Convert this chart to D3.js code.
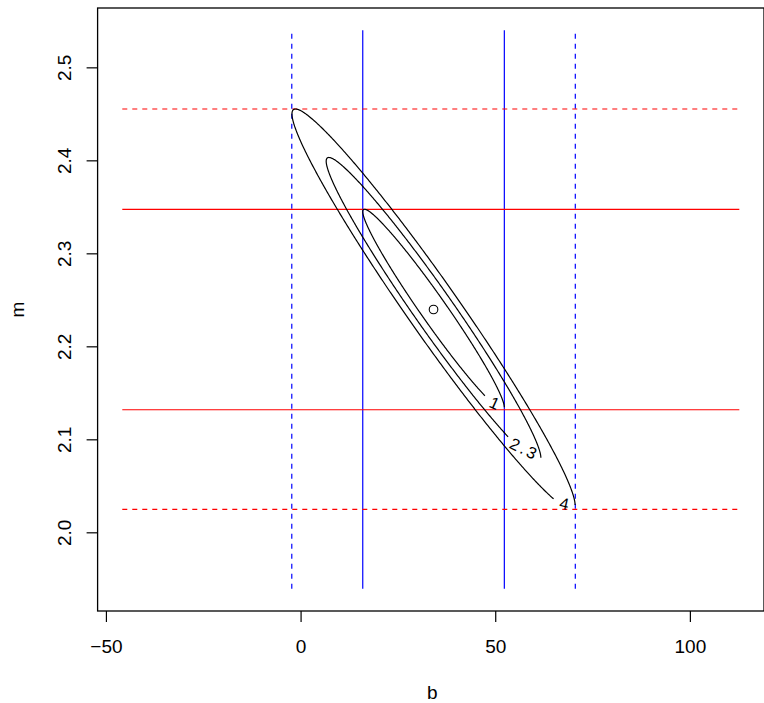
<!DOCTYPE html>
<html>
<head>
<meta charset="utf-8">
<script src="https://cdn.jsdelivr.net/npm/d3@7"></script>
<style>
body { margin: 0; background: #fff; }
text { font-family: "Liberation Sans", Arial, Helvetica, sans-serif; }
</style>
</head>
<body>
<div id="chart"></div>
<script>
// fit result: best (b, m), 1-sigma errors, correlation
var bestFit = [34.15, 2.2396];
var sigmas = [18.18, 0.1078];
var rho = -0.975;

// delta chi-square contour levels and their labels
var levels = [1, 2.3, 4];
var levelLabels = ["1", "2.3", "4"];

// error lines (1 sigma solid, 2 sigma dashed)
var bSolid = [15.97, 52.34];
var bDashed = [-2.26, 70.57];
var mSolid = [2.1318, 2.3473];
var mDashed = [2.0247, 2.4552];

// plot limits and ticks
var xlim = [-45.8, 112.7];
var ylim = [1.9394, 2.5398];
var xTicks = [-50, 0, 50, 100];
var yTicks = [2.0, 2.1, 2.2, 2.3, 2.4, 2.5];

var width = 764, height = 703;
var margin = {top: 8, right: 0, bottom: 92, left: 97.6};

var svg = d3.select("#chart")
  .append("svg")
    .attr("width", width)
    .attr("height", height);

// R style axes: limits extended by 4% on each side
var xr = xlim[1] - xlim[0], yr = ylim[1] - ylim[0];
var x = d3.scaleLinear()
  .domain([xlim[0] - 0.04 * xr, xlim[1] + 0.04 * xr])
  .range([margin.left, width - margin.right]);
var y = d3.scaleLinear()
  .domain([ylim[0] - 0.04 * yr, ylim[1] + 0.04 * yr])
  .range([height - margin.bottom, margin.top]);

// X axis
var gx = svg.append("g")
  .attr("transform", "translate(0," + (height - margin.bottom) + ")")
  .call(d3.axisBottom(x).tickValues(xTicks).tickSize(11).tickPadding(17.5));
gx.select(".domain").remove();
gx.selectAll("text").style("font-size", "19px").attr("fill", "#000");
gx.selectAll("line").attr("stroke", "#000").attr("stroke-width", 1.2);

// Y axis, labels parallel to the axis
var gy = svg.append("g")
  .attr("transform", "translate(" + margin.left + ",0)")
  .call(d3.axisLeft(y).tickValues(yTicks).tickSize(11).tickFormat(d3.format(".1f")));
gy.select(".domain").remove();
gy.selectAll("line").attr("stroke", "#000").attr("stroke-width", 1.2);
gy.selectAll("text")
  .attr("x", 0).attr("dy", null)
  .attr("text-anchor", "middle")
  .attr("transform", "translate(" + (70.6 - margin.left) + ",0) rotate(-90)")
  .style("font-size", "19px")
  .attr("fill", "#000");

// box
svg.append("rect")
  .attr("x", margin.left)
  .attr("y", margin.top)
  .attr("width", width - margin.right - margin.left)
  .attr("height", height - margin.bottom - margin.top)
  .attr("fill", "none")
  .attr("stroke", "#000")
  .attr("stroke-width", 1.3);

// axis titles
svg.append("text")
  .attr("x", (margin.left + width - margin.right) / 2 + 1.5)
  .attr("y", 699)
  .attr("text-anchor", "middle")
  .style("font-size", "19px")
  .text("b");
svg.append("text")
  .attr("transform", "translate(24," + (margin.top + height - margin.bottom) / 2 + ") rotate(-90)")
  .attr("text-anchor", "middle")
  .style("font-size", "19px")
  .text("m");

// vertical lines for b
svg.selectAll(".bline")
  .data(bSolid.map(function(d) { return {v: d, dash: null}; })
    .concat(bDashed.map(function(d) { return {v: d, dash: "5,5"}; })))
  .enter()
  .append("line")
    .attr("x1", function(d) { return x(d.v); })
    .attr("x2", function(d) { return x(d.v); })
    .attr("y1", y(ylim[0]))
    .attr("y2", y(ylim[1]))
    .attr("stroke", "#0000ff")
    .attr("stroke-width", 1.2)
    .attr("stroke-dasharray", function(d) { return d.dash; });

// horizontal lines for m
svg.selectAll(".mline")
  .data(mSolid.map(function(d) { return {v: d, dash: null}; })
    .concat(mDashed.map(function(d) { return {v: d, dash: "5,5"}; })))
  .enter()
  .append("line")
    .attr("y1", function(d) { return y(d.v); })
    .attr("y2", function(d) { return y(d.v); })
    .attr("x1", x(xlim[0]))
    .attr("x2", x(xlim[1]))
    .attr("stroke", "#ff0000")
    .attr("stroke-width", 1.2)
    .attr("stroke-dasharray", function(d) { return d.dash; });

// contour ellipses; the label sits in a gap that starts at the
// right-most point and goes back round the lower tip
var s1m = Math.sqrt(1 - rho * rho);
var line = d3.line();

levels.forEach(function(lev, k) {
  var r = Math.sqrt(lev);
  var n = 720;
  var pts = d3.range(0, n + 1).map(function(i) {
    var t = i / n * 2 * Math.PI;
    var b = bestFit[0] + r * sigmas[0] * Math.cos(t);
    var m = bestFit[1] + r * sigmas[1] * (rho * Math.cos(t) + s1m * Math.sin(t));
    return [x(b), y(m)];
  });
  var label = levelLabels[k];
  var gapW = 14 + 8 * label.length;
  var end = n;
  while (end > 0 && Math.hypot(pts[end][0] - pts[0][0], pts[end][1] - pts[0][1]) < gapW) end--;
  var p0 = pts[end], p1 = pts[0];
  var c = [(p0[0] + p1[0]) / 2, (p0[1] + p1[1]) / 2 + 1.5];
  var ang = Math.atan2(p1[1] - p0[1], p1[0] - p0[0]) * 180 / Math.PI;

  svg.append("path")
    .attr("d", line(pts.slice(0, end + 1)))
    .attr("fill", "none")
    .attr("stroke", "#000")
    .attr("stroke-width", 1.2);

  svg.append("text")
    .attr("transform", "translate(" + c[0] + "," + c[1] + ") rotate(" + ang * 0.8 + ")")
    .attr("text-anchor", "middle")
    .attr("dominant-baseline", "central")
    .style("font-size", "16.5px")
    .style("letter-spacing", label.length > 1 ? "2.5px" : null)
    .text(label);
});

// best fit point
svg.append("circle")
  .attr("cx", x(bestFit[0]))
  .attr("cy", y(bestFit[1]))
  .attr("r", 4.3)
  .attr("fill", "none")
  .attr("stroke", "#000")
  .attr("stroke-width", 1.1);
</script>
</body>
</html>
